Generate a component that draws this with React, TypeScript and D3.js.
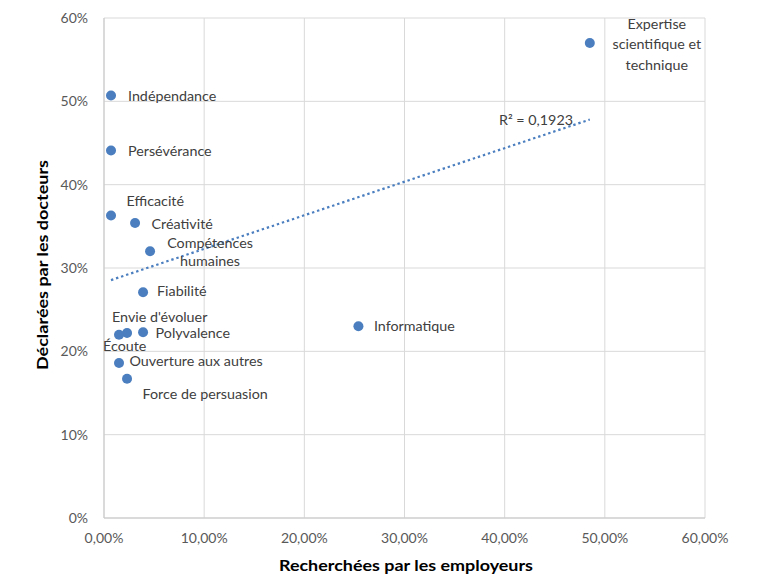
import React from "react";
import * as d3 from "d3";

const W = 763;
const H = 576;

const skills = [
  "Expertise scientifique et technique",
  "Indépendance",
  "Persévérance",
  "Efficacité",
  "Créativité",
  "Compétences humaines",
  "Fiabilité",
  "Polyvalence",
  "Envie d'évoluer",
  "Écoute",
  "Ouverture aux autres",
  "Force de persuasion",
  "Informatique",
];
// Recherchées par les employeurs (x)
const employerValues = [0.485, 0.007, 0.007, 0.007, 0.031, 0.046, 0.039, 0.039, 0.023, 0.015, 0.015, 0.023, 0.254];
// Déclarées par les docteurs (y)
const doctorValues = [0.57, 0.507, 0.441, 0.363, 0.354, 0.32, 0.271, 0.223, 0.222, 0.22, 0.186, 0.167, 0.23];

const xTicks = [0, 0.1, 0.2, 0.3, 0.4, 0.5, 0.6];
const yTicks = [0, 0.1, 0.2, 0.3, 0.4, 0.5, 0.6];
const rSquaredLabel = "R² = 0,1923";

// label layout (offsets in px from the point), lines and anchor
const labelLayout: { lines: string[]; dx: number; dy: number[]; anchor: string }[] = [
  { lines: ["Expertise", "scientifique et", "technique"], dx: 67, dy: [-19.5, 1, 21.5], anchor: "middle" },
  { lines: ["Indépendance"], dx: 17, dy: [0], anchor: "start" },
  { lines: ["Persévérance"], dx: 17, dy: [0], anchor: "start" },
  { lines: ["Efficacité"], dx: 15.5, dy: [-15], anchor: "start" },
  { lines: ["Créativité"], dx: 16.5, dy: [0.5], anchor: "start" },
  { lines: ["Compétences", "humaines"], dx: 60, dy: [-8.5, 10], anchor: "middle" },
  { lines: ["Fiabilité"], dx: 14, dy: [-1], anchor: "start" },
  { lines: ["Polyvalence"], dx: 12.5, dy: [0.5], anchor: "start" },
  { lines: ["Envie d'évoluer"], dx: -15, dy: [-16.5], anchor: "start" },
  { lines: ["Écoute"], dx: -16, dy: [11], anchor: "start" },
  { lines: ["Ouverture aux autres"], dx: 10.5, dy: [-2.5], anchor: "start" },
  { lines: ["Force de persuasion"], dx: 15.5, dy: [15.3], anchor: "start" },
  { lines: ["Informatique"], dx: 15.5, dy: [0], anchor: "start" },
];

const FONT = "Lato, 'Open Sans', sans-serif";
const BLUE = "#4a7ebf";
const LABEL_SIZE = 14.3;

export default function App() {
  const x = d3.scaleLinear().domain([0, 0.6]).range([104, 705]);
  const y = d3.scaleLinear().domain([0, 0.6]).range([518, 18]);

  // linear regression
  const n = employerValues.length;
  const mx = d3.mean(employerValues)!;
  const my = d3.mean(doctorValues)!;
  let sxy = 0;
  let sxx = 0;
  for (let i = 0; i < n; i++) {
    sxy += (employerValues[i] - mx) * (doctorValues[i] - my);
    sxx += (employerValues[i] - mx) ** 2;
  }
  const slope = sxy / sxx;
  const intercept = my - slope * mx;
  const [xmin, xmax] = d3.extent(employerValues) as [number, number];
  const trend = d3.line<number>().x((v) => x(v)).y((v) => y(intercept + slope * v))([xmin, xmax])!;

  const fmtX = (v: number) => (v * 100).toFixed(2).replace(".", ",") + "%";
  const fmtY = (v: number) => Math.round(v * 100) + "%";

  return (
    <div style={{ position: "absolute", left: 0, top: 0 }}>
      <svg width={W} height={H} style={{ display: "block", background: "#fff" }}>
        {/* gridlines */}
        {xTicks.map((t) => (
          <line key={"gx" + t} x1={x(t)} x2={x(t)} y1={y(0.6)} y2={y(0)} stroke="#d9d9d9" strokeWidth={1} />
        ))}
        {yTicks.map((t) => (
          <line key={"gy" + t} x1={x(0)} x2={x(0.6)} y1={y(t)} y2={y(t)} stroke="#d9d9d9" strokeWidth={1} />
        ))}
        <line x1={x(0)} x2={x(0)} y1={y(0.6)} y2={y(0)} stroke="#c8c8c8" />
        <line x1={x(0)} x2={x(0.6)} y1={y(0)} y2={y(0)} stroke="#c8c8c8" />

        {/* tick labels */}
        {yTicks.map((t) => (
          <text key={"ty" + t} x={88} y={y(t)} dy="0.35em" textAnchor="end" fontFamily={FONT} fontSize={14} fill="#595959">
            {fmtY(t)}
          </text>
        ))}
        {xTicks.map((t) => (
          <text key={"tx" + t} x={x(t)} y={538} dy="0.35em" textAnchor="middle" fontFamily={FONT} fontSize={14} fill="#595959">
            {fmtX(t)}
          </text>
        ))}

        {/* axis titles */}
        <text x={406} y={565} dy="0.35em" textAnchor="middle" fontFamily={FONT} fontWeight="bold" fontSize={16} fill="#000" textLength={254} lengthAdjust="spacingAndGlyphs">
          Recherchées par les employeurs
        </text>
        <text transform="translate(42,265) rotate(-90)" dy="0.35em" textAnchor="middle" fontFamily={FONT} fontWeight="bold" fontSize={16} fill="#000" textLength={210} lengthAdjust="spacingAndGlyphs">
          Déclarées par les docteurs
        </text>

        {/* trendline */}
        <path d={trend} fill="none" stroke={BLUE} strokeWidth={2.2} strokeDasharray="2.4 2.9" />

        {/* points */}
        {skills.map((s, i) => (
          <circle key={s} cx={x(employerValues[i])} cy={y(doctorValues[i])} r={5} fill={BLUE} />
        ))}

        {/* labels */}
        {skills.map((s, i) => {
          const l = labelLayout[i];
          const px = x(employerValues[i]);
          const py = y(doctorValues[i]);
          return (
            <text key={"l" + s} textAnchor={l.anchor as any} fontFamily={FONT} fontSize={LABEL_SIZE} fill="#404040">
              {l.lines.map((ln, j) => (
                <tspan key={j} x={px + l.dx} y={py + l.dy[j]} dy="0.35em">
                  {ln}
                </tspan>
              ))}
            </text>
          );
        })}

        {/* R² */}
        <text x={573} y={120} dy="0.35em" textAnchor="end" fontFamily={FONT} fontSize={LABEL_SIZE} fill="#404040">
          {rSquaredLabel}
        </text>
      </svg>
    </div>
  );
}
